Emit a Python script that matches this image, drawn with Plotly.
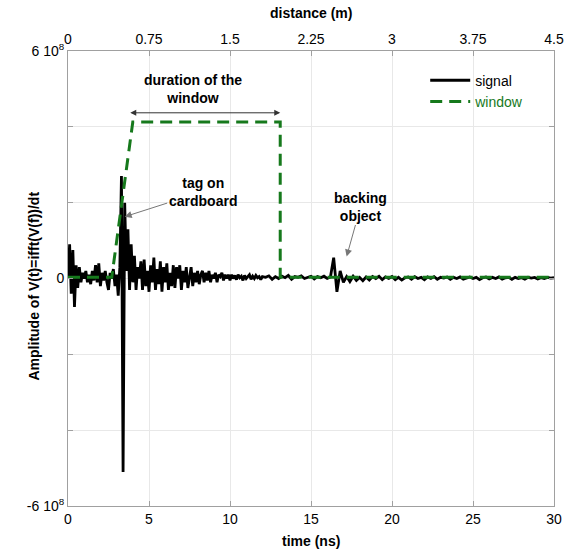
import plotly.graph_objects as go

# ---------------- data (amplitude in units of 1e8) ----------------
FINE_DT = 0.1      # ns, samples from 0 to 12 ns
COARSE_T0 = 12.2   # ns
COARSE_DT = 0.2    # ns, samples from 12.2 to 30 ns

signal_fine = [
    0.05, 0.9, -0.4, 0.75, -0.75, 0.35, -0.25, 0.3, -0.1, 0.15,
    0.0, 0.2, -0.1, 0.1, -0.15, 0.2, -0.05, 0.35, -0.1, 0.4,
    -0.2, 0.15, -0.05, 0.2, -0.1, -0.3, 0.15, 0.0, 0.25, -0.2,
    0.1, -0.45, 0.3, 2.7, -5.1, 2.0, 0.2, 1.3, -0.3, 0.9,
    -0.1, 0.6, -0.3, 0.3, 0.0, 0.45, -0.3, 0.5, -0.2, 0.2,
    -0.35, 0.35, -0.1, 0.55, -0.3, 0.25, -0.15, 0.45, -0.35, 0.3,
    -0.1, 0.4, -0.3, 0.15, -0.2, 0.35, -0.25, 0.3, 0.0, 0.35,
    -0.3, 0.2, -0.1, 0.3, -0.25, 0.1, 0.3, -0.2, 0.15, -0.1,
    0.2, -0.15, 0.1, 0.2, -0.1, 0.15, -0.05, 0.2, -0.1, 0.1,
    0.0, 0.15, -0.1, 0.1, 0.05, 0.15, -0.05, 0.1, 0.0, 0.1,
    -0.05, 0.1, 0.0, 0.08, -0.03, 0.1, 0.02, 0.06, -0.05, 0.08,
    0.0, 0.05, 0.1, -0.02, 0.06, 0.0, 0.08, 0.02, 0.05, -0.03,
    0.05,
]
signal_coarse = [
    0.03, 0.07, -0.02, 0.05, 0.0, 0.06, 0.02, 0.08, -0.02, 0.05,
    0.03, 0.07, 0.0, 0.04, 0.06, -0.01, 0.05, 0.02, 0.06, 0.0,
    0.04, 0.55, -0.35, 0.2, -0.1, 0.05, -0.08, 0.06, -0.05, 0.03,
    -0.06, 0.04, -0.04, 0.05, 0.0, 0.06, -0.03, 0.04, 0.0, 0.05,
    -0.03, 0.03, -0.04, 0.02, 0.04, -0.02, 0.05, 0.0, 0.03, -0.03,
    0.04, 0.0, 0.05, -0.02, 0.03, 0.01, 0.04, -0.02, 0.03, 0.0,
    0.04, -0.02, 0.02, 0.04, 0.0, 0.03, -0.03, 0.02, 0.04, -0.01,
    0.03, 0.0, 0.04, -0.02, 0.02, 0.03, -0.02, 0.03, 0.0, 0.02,
    -0.02, 0.03, 0.01, 0.03, -0.01, 0.02, 0.0, 0.03, 0.01, 0.02,
]

window_t = [0.0, 2.7, 4.0, 13.1, 13.1, 30.0]
window_v = [0.03, 0.03, 4.13, 4.13, 0.03, 0.03]

x_ticks = [0, 5, 10, 15, 20, 25, 30]
dist_ticks = [0, 0.75, 1.5, 2.25, 3, 3.75, 4.5]
dist_labels = ["0", "0.75", "1.5", "2.25", "3", "3.75", "4.5"]
y_ticks = [-6, -4, -2, 0, 2, 4, 6]
y_labels = ["-6 10<sup>8</sup>", "", "", "0", "", "", "6 10<sup>8</sup>"]

# ---------------- build ----------------
signal_t = [round(i * FINE_DT, 2) for i in range(len(signal_fine))] + \
           [round(COARSE_T0 + i * COARSE_DT, 2) for i in range(len(signal_coarse))]
signal_v = signal_fine + signal_coarse

GREEN = "#16791c"
FONT = "Liberation Sans, Arial, sans-serif"
AX_COL = "#a0a0a0"
GRID = "#e8e8e8"

fig = go.Figure()
fig.add_trace(go.Scatter(x=signal_t, y=signal_v, mode="lines", name="signal",
                         line=dict(color="black", width=2.8)))
fig.add_trace(go.Scatter(x=window_t, y=window_v, mode="lines",
                         name=f"<span style='color:{GREEN}'>window</span>",
                         line=dict(color=GREEN, width=3, dash="12px,7px")))
# invisible trace to activate the top axis
fig.add_trace(go.Scatter(x=[dist_ticks[0], dist_ticks[-1]], y=[0, 0], xaxis="x2",
                         mode="lines", line=dict(width=0), showlegend=False,
                         hoverinfo="skip", opacity=0))

fig.update_layout(
    width=576, height=552,
    margin=dict(l=68, r=19, t=51, b=46),
    paper_bgcolor="white", plot_bgcolor="white",
    font=dict(family=FONT, size=14, color="black"),
    showlegend=True,
    legend=dict(x=0.735, y=0.97, xanchor="left", yanchor="top",
                bgcolor="rgba(255,255,255,0)", font=dict(size=14),
                tracegroupgap=0, itemwidth=40),
    xaxis=dict(range=[0, 30], tickvals=x_ticks, showgrid=True, gridcolor=GRID,
               showline=True, linecolor=AX_COL, linewidth=1, ticks="inside",
               ticklen=5, tickcolor=AX_COL, zeroline=False,
               tickfont=dict(size=14)),
    xaxis2=dict(range=[0, 4.5], tickvals=dist_ticks, ticktext=dist_labels,
                overlaying="x", side="top", showgrid=False, showline=True,
                linecolor=AX_COL, linewidth=1, ticks="inside", ticklen=5,
                tickcolor=AX_COL, zeroline=False, tickfont=dict(size=14)),
    yaxis=dict(range=[-6, 6], tickvals=y_ticks, ticktext=y_labels,
               showgrid=True, gridcolor=GRID, showline=True, linecolor=AX_COL,
               linewidth=1, mirror="ticks", ticks="inside", ticklen=5,
               tickcolor=AX_COL, zeroline=False, tickfont=dict(size=14)),
)

annots = [
    dict(text="<b>time (ns)</b>", xref="paper", yref="paper", x=0.5, y=0,
         xanchor="center", yanchor="middle", yshift=-35, showarrow=False,
         font=dict(size=14)),
    dict(text="<b>distance (m)</b>", xref="paper", yref="paper", x=0.5, y=1,
         xanchor="center", yanchor="middle", yshift=38, showarrow=False,
         font=dict(size=14)),
    dict(text="<b>Amplitude of V(t)=ifft(V(f))/dt</b>", xref="paper", yref="paper",
         x=0, y=0.5, xanchor="center", yanchor="middle", xshift=-35, yshift=-8,
         textangle=-90, showarrow=False, font=dict(size=14)),
    dict(text="<b>duration of the<br>window</b>", xref="x", yref="y", x=7.7, y=5.0,
         showarrow=False, font=dict(size=14), xanchor="center", yanchor="middle"),
    # double-headed arrow for window duration
    dict(text="", xref="x", yref="y", x=13.1, y=4.37, axref="x", ayref="y",
         ax=3.75, ay=4.37, showarrow=True, arrowhead=2, startarrowhead=2,
         arrowside="end+start", arrowsize=1.2, arrowwidth=1, arrowcolor="#333"),
    dict(text="<b>tag on<br>cardboard</b>", xref="x", yref="y", x=3.5, y=1.63,
         ax=78, ay=-25, showarrow=True, arrowhead=2, arrowsize=1.4,
         arrowwidth=1, arrowcolor="#777", font=dict(size=14)),
    dict(text="<b>backing<br>object</b>", xref="x", yref="y", x=17.2, y=0.58,
         ax=14, ay=-50, showarrow=True, arrowhead=2, arrowsize=1.4,
         arrowwidth=1, arrowcolor="#777", font=dict(size=14)),
]
fig.update_layout(annotations=annots)

fig.write_html("out.html")
